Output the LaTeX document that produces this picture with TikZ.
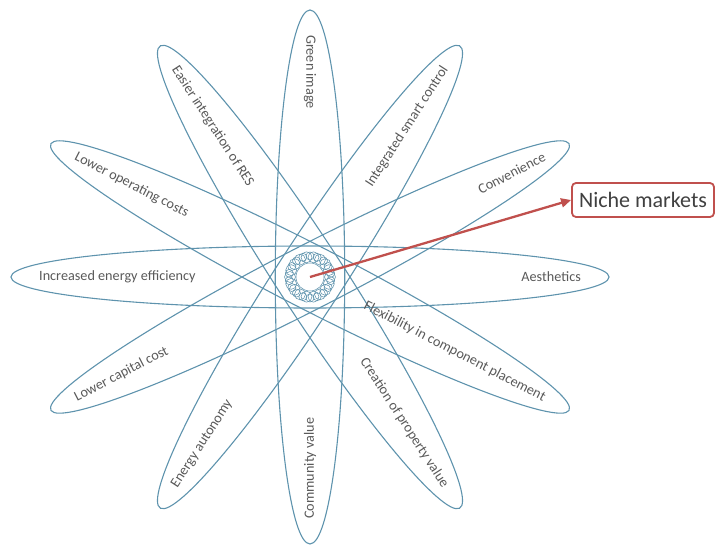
\documentclass[tikz,border=0pt]{standalone}
\usepackage{fontspec}
\setmainfont{Carlito}
\usetikzlibrary{arrows.meta}
\definecolor{petalblue}{HTML}{5E93AD}
\definecolor{labelgray}{HTML}{595959}
\definecolor{nichered}{HTML}{C0504D}
\definecolor{nichetext}{HTML}{404040}
\tikzset{
  petal/.style={draw=petalblue, line width=1.1pt},
  plabel/.style={text=labelgray, font=\fontsize{14.2}{16}\selectfont, inner sep=0pt},
  ringloop/.style={draw=petalblue, line width=0.55pt},
  nichebox/.style={draw=nichered, line width=1.8pt, rounded corners=4pt, fill=white,
    minimum width=142pt, minimum height=34pt, inner sep=0pt,
    text=nichetext, font=\fontsize{22}{24}\selectfont},
  nichearrow/.style={draw=nichered, line width=2.3pt, -{Triangle[length=10pt,width=9pt]}}
}
\begin{document}
\begin{tikzpicture}[x=1pt,y=1pt]
\useasboundingbox (-310,-268) rectangle (405,277);
% petals
\foreach \a in {0,30,60,90,120,150}{
  \draw[petal, xscale=1.12, rotate=\a] (0,0) ellipse (267 and 31);
}
% labels
\node[plabel, anchor=west, rotate=-90] (l90) at (0,242) {Green image};
\node[plabel, anchor=east, rotate=57.1] (l60) at (135.5,209.6) {Integrated smart control};
\node[plabel, anchor=east, rotate=27.3] (l30) at (234.7,121) {Convenience};
\node[plabel, anchor=east] (l0) at (271,0) {Aesthetics};
\node[plabel, anchor=east, rotate=-27.3] (lm30) at (234.7,-121) {Flexibility in component placement};
\node[plabel, anchor=east, rotate=-57.1] (lm60) at (135.5,-209.6) {Creation of property value};
\node[plabel, anchor=west, rotate=90] (lm90) at (0,-242) {Community value};
\node[plabel, anchor=west, rotate=57.1] (lm120) at (-135.5,-209.6) {Energy autonomy};
\node[plabel, anchor=west, rotate=27.3] (lm150) at (-234.7,-121) {Lower capital cost};
\node[plabel, anchor=west] (l180) at (-271,0) {Increased energy efficiency};
\node[plabel, anchor=west, rotate=-27.3] (l150) at (-234.7,121) {Lower operating costs};
\node[plabel, anchor=west, rotate=-57.1] (l120) at (-135.5,209.6) {Easier integration of RES};
% center ring
\node[circle, fill=white, minimum size=52pt, inner sep=0pt] (hub) at (0,0) {};
\foreach \i in {0,...,17}{
  \draw[ringloop] ({20*cos(\i*20)},{20*sin(\i*20)}) circle (5.5);
  \draw[ringloop] ({21*cos(\i*20+10)},{21*sin(\i*20+10)}) circle (4);
}
\fill[white] (0,0) circle (14);
\draw[ringloop] (0,0) circle (14);
% niche markets
\node[nichebox] (niche) at (333,77) {Niche markets};
\draw[nichearrow] (hub.center) -- (niche.west);
\end{tikzpicture}
\end{document}
